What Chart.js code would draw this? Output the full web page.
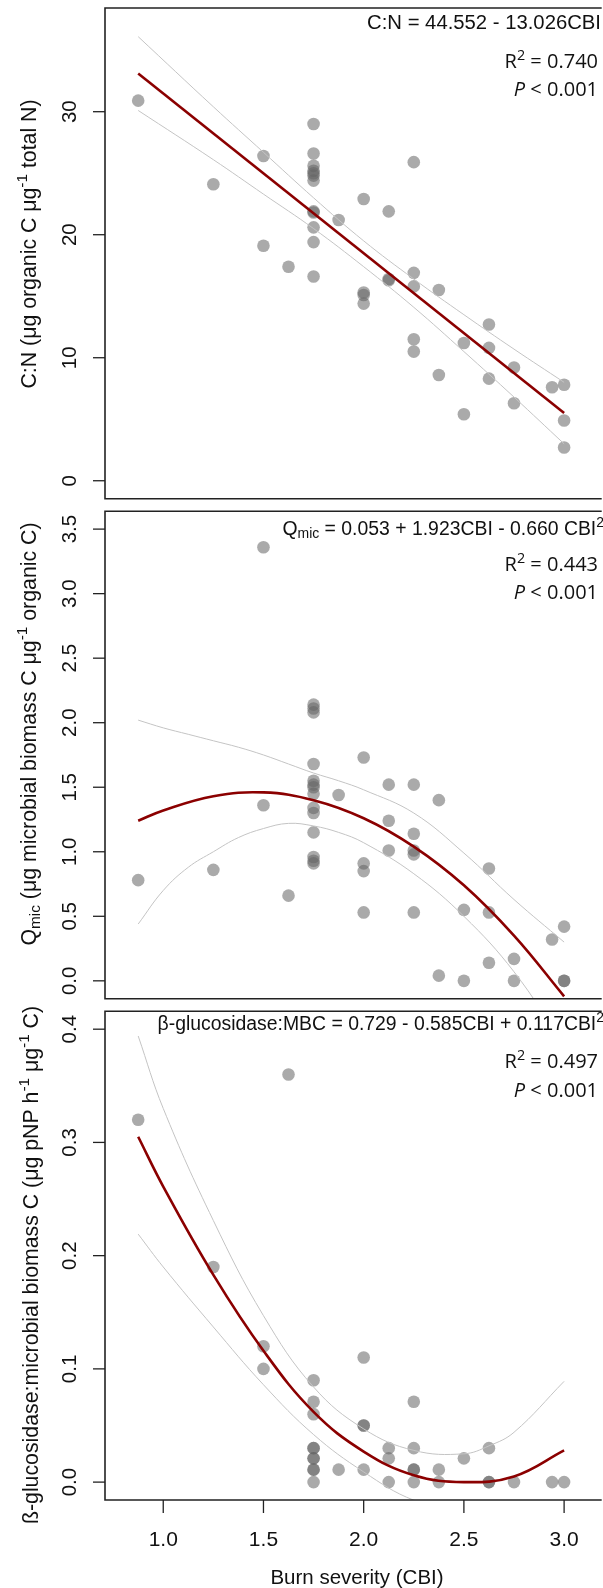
<!DOCTYPE html>
<html>
<head>
<meta charset="utf-8">
<script src="https://cdn.jsdelivr.net/npm/chart.js@4.4.0/dist/chart.umd.min.js"></script>
<style>
  html, body { margin: 0; padding: 0; background: #fff; }
  #wrap { position: relative; width: 603px; height: 1588px; overflow: hidden; }
  canvas { position: absolute; left: 0; }
</style>
</head>
<body>
<div id="wrap">
  <canvas id="c1" width="603" height="505" style="top:0px"></canvas>
  <canvas id="c2" width="603" height="500" style="top:505px"></canvas>
  <canvas id="c3" width="603" height="583" style="top:1005px"></canvas>
</div>
<script>
// ---- data ----
const xTicks = [1.0, 1.5, 2.0, 2.5, 3.0];
const xTickLabels = ["1.0", "1.5", "2.0", "2.5", "3.0"];

// C:N panel
const cnX = [0.875, 1.25, 1.5, 1.5, 1.625,
  1.75, 1.75, 1.75, 1.75, 1.75, 1.75, 1.75, 1.75, 1.75, 1.75, 1.75, 1.75,
  1.875, 2.0, 2.0, 2.0, 2.0, 2.125, 2.125, 2.125,
  2.25, 2.25, 2.25, 2.25, 2.25, 2.375, 2.375, 2.5, 2.5,
  2.625, 2.625, 2.625, 2.75, 2.75, 2.94, 3.0, 3.0, 3.0];
const cnY = [30.9, 24.1, 26.4, 19.1, 17.4,
  29.0, 26.6, 25.6, 25.2, 25.0, 24.8, 24.4, 21.9, 21.8, 20.6, 19.4, 16.6,
  21.2, 22.9, 15.3, 15.1, 14.4, 21.9, 16.4, 16.3,
  25.9, 16.9, 15.8, 11.5, 10.5, 15.5, 8.6, 11.2, 5.4,
  12.7, 10.8, 8.3, 9.2, 6.3, 7.6, 7.8, 4.9, 2.7];
const cnFitX = [0.875, 3.0];
const cnFitY = [33.1, 5.5];
const cnBandX = [0.875, 1.25, 1.5, 1.75, 2.0, 2.25, 2.5, 2.75, 3.0];
const cnUpper = [36.1, 30.4, 26.7, 23.0, 19.5, 16.4, 13.5, 10.7, 8.0];
const cnLower = [30.1, 26.1, 23.3, 20.5, 17.4, 14.1, 10.5, 6.8, 3.0];
const cnTicks = [0, 10, 20, 30];
const cnTickLabels = ["0", "10", "20", "30"];

// Qmic panel
const qX = [0.875, 1.25, 1.5, 1.5, 1.625,
  1.75, 1.75, 1.75, 1.75, 1.75, 1.75, 1.75, 1.75, 1.75, 1.75, 1.75, 1.75, 1.75, 1.75,
  1.875, 2.0, 2.0, 2.0, 2.0, 2.125, 2.125, 2.125,
  2.25, 2.25, 2.25, 2.25, 2.25, 2.375, 2.375, 2.5, 2.5,
  2.625, 2.625, 2.625, 2.75, 2.75, 2.94, 3.0, 3.0, 3.0];
const qY = [0.78, 0.86, 3.36, 1.36, 0.66,
  2.14, 2.11, 2.08, 1.68, 1.55, 1.52, 1.50, 1.45, 1.34, 1.30, 1.15, 0.96, 0.93, 0.91,
  1.44, 1.73, 0.91, 0.85, 0.53, 1.52, 1.24, 1.01,
  1.52, 1.14, 1.01, 0.98, 0.53, 1.40, 0.04, 0.55, 0.0,
  0.87, 0.53, 0.14, 0.17, 0.0, 0.32, 0.42, 0.0, 0.0];
const qFitX = [0.875, 1.0, 1.25, 1.5, 1.75, 2.0, 2.25, 2.5, 2.75, 3.0];
const qFitY = [1.24, 1.32, 1.43, 1.46, 1.40, 1.26, 1.04, 0.74, 0.35, -0.12];
const qBandX = [0.875, 1.0, 1.125, 1.25, 1.375, 1.5, 1.625, 1.75, 1.875, 2.0, 2.25, 2.5, 2.75, 3.0];
const qUpper = [2.02, 1.96, 1.91, 1.86, 1.81, 1.75, 1.68, 1.61, 1.55, 1.48, 1.30, 0.99, 0.63, 0.30];
const qLower = [0.44, 0.70, 0.88, 1.00, 1.11, 1.18, 1.22, 1.20, 1.15, 1.07, 0.83, 0.50, 0.07, -0.50];
const qTicks = [0, 0.5, 1.0, 1.5, 2.0, 2.5, 3.0, 3.5];
const qTickLabels = ["0.0", "0.5", "1.0", "1.5", "2.0", "2.5", "3.0", "3.5"];

// beta-glucosidase:MBC panel
const bgX = [0.875, 1.25, 1.5, 1.5, 1.625,
  1.75, 1.75, 1.75, 1.75, 1.75, 1.75, 1.75, 1.75, 1.75, 1.75,
  1.875, 2.0, 2.0, 2.0, 2.0, 2.125, 2.125, 2.125,
  2.25, 2.25, 2.25, 2.25, 2.25, 2.375, 2.375, 2.5,
  2.625, 2.625, 2.625, 2.75, 2.94, 3.0];
const bgY = [0.320, 0.190, 0.120, 0.100, 0.360,
  0.090, 0.071, 0.060, 0.030, 0.030, 0.021, 0.021, 0.011, 0.011, 0.0,
  0.011, 0.110, 0.050, 0.050, 0.011, 0.030, 0.021, 0.0,
  0.071, 0.030, 0.011, 0.011, 0.0, 0.011, 0.0, 0.021,
  0.030, 0.0, 0.0, 0.0, 0.0, 0.0];
const bgFitX = [0.875, 1.0, 1.25, 1.5, 1.75, 2.0, 2.25, 2.5, 2.75, 3.0];
const bgFitY = [0.305, 0.261, 0.183, 0.116, 0.062, 0.027, 0.006, 0.0, 0.005, 0.028];
const bgBandX = [0.875, 1.0, 1.25, 1.5, 1.75, 2.0, 2.25, 2.5, 2.625, 2.75, 3.0];
const bgUpper = [0.394, 0.330, 0.231, 0.147, 0.084, 0.047, 0.028, 0.025, 0.032, 0.044, 0.089];
const bgLower = [0.219, 0.190, 0.137, 0.086, 0.042, 0.009, -0.016, -0.026, -0.030, -0.033, -0.034];
const bgTicks = [0, 0.1, 0.2, 0.3, 0.4];
const bgTickLabels = ["0.0", "0.1", "0.2", "0.3", "0.4"];

// ---- styling ----
const SANS = '"Liberation Sans", Arial, sans-serif';
const STAT = '"Open Sans", sans-serif';
const INK = "#111";
const DOT = "rgba(100,100,100,0.55)";
const FIT = "#8b0000";
const BAND = "#c4c4c4";

const pts = (xs, ys) => xs.map((x, i) => ({ x, y: ys[i] }));

function richWidth(ctx, segs, size, family) {
  let w = 0;
  segs.forEach((s) => {
    const fs = s.s ? size * 0.72 : size;
    ctx.font = `${s.i ? "italic " : ""}${fs}px ${family}`;
    w += ctx.measureText(s.t).width;
  });
  return w;
}

function drawRich(ctx, segs, x, y, size, family, align) {
  const w = richWidth(ctx, segs, size, family);
  let cx = align === "right" ? x - w : align === "center" ? x - w / 2 : x;
  ctx.textAlign = "left";
  ctx.textBaseline = "alphabetic";
  ctx.fillStyle = INK;
  segs.forEach((s) => {
    const fs = s.s ? size * 0.72 : size;
    ctx.font = `${s.i ? "italic " : ""}${fs}px ${family}`;
    let dy = 0;
    if (s.s === "sup") dy = -size * 0.42;
    if (s.s === "sub") dy = size * 0.18;
    ctx.fillText(s.t, cx, y + dy);
    cx += ctx.measureText(s.t).width;
  });
}

function makePanel(cfg) {
  const decor = {
    id: "decor",
    afterDraw(chart) {
      const { ctx, chartArea: a, scales } = chart;
      const ys = scales.y, xs = scales.x;
      ctx.save();
      ctx.strokeStyle = "#222";
      ctx.lineWidth = 1.6;
      ctx.beginPath();
      ctx.moveTo(a.right + 5, a.top);
      ctx.lineTo(a.left, a.top);
      ctx.lineTo(a.left, a.bottom);
      ctx.lineTo(a.right + 5, a.bottom);
      ctx.stroke();

      // y ticks + rotated labels
      ctx.lineWidth = 1.3;
      cfg.yTicks.forEach((v, i) => {
        const py = ys.getPixelForValue(v);
        ctx.beginPath();
        ctx.moveTo(a.left - 12, py);
        ctx.lineTo(a.left, py);
        ctx.stroke();
        ctx.save();
        ctx.translate(75.5, py);
        ctx.rotate(-Math.PI / 2);
        ctx.font = `20.5px ${SANS}`;
        ctx.fillStyle = INK;
        ctx.textAlign = "center";
        ctx.textBaseline = "alphabetic";
        ctx.fillText(cfg.yTickLabels[i], 0, 0);
        ctx.restore();
      });

      // y title
      ctx.save();
      ctx.translate(cfg.titleX, cfg.titleY);
      ctx.rotate(-Math.PI / 2);
      drawRich(ctx, cfg.title, 0, 0, 21.3, SANS, "center");
      ctx.restore();

      // x axis (bottom panel only)
      if (cfg.xAxis) {
        xTicks.forEach((v, i) => {
          const px = xs.getPixelForValue(v);
          ctx.beginPath();
          ctx.moveTo(px, a.bottom);
          ctx.lineTo(px, a.bottom + 13);
          ctx.stroke();
          ctx.font = `21px ${SANS}`;
          ctx.fillStyle = INK;
          ctx.textAlign = "center";
          ctx.textBaseline = "alphabetic";
          ctx.fillText(xTickLabels[i], px, a.bottom + 46);
        });
        ctx.font = `20.5px ${SANS}`;
        ctx.fillText("Burn severity (CBI)", 357, a.bottom + 84);
      }

      // equation and stats
      drawRich(ctx, cfg.eq, cfg.eqX, cfg.eqY, cfg.eqSize, SANS, "right");
      drawRich(ctx, [{ t: "R" }, { t: "2", s: "sup" }, { t: " = " + cfg.r2 }], 598, cfg.r2Y, 20, STAT, "right");
      drawRich(ctx, [{ t: "P", i: true }, { t: " < 0.001" }], 598, cfg.pY, 20, STAT, "right");
      ctx.restore();
    }
  };

  const line = (xs, ys, color, width) => ({
    type: "line",
    data: pts(xs, ys),
    borderColor: color,
    borderWidth: width,
    pointRadius: 0,
    fill: false,
    tension: 0.4,
  });

  new Chart(document.getElementById(cfg.id), {
    type: "scatter",
    data: {
      datasets: [
        line(cfg.fitX, cfg.fitY, FIT, 2.6),
        line(cfg.bandX, cfg.upper, BAND, 1),
        line(cfg.bandX, cfg.lower, BAND, 1),
        {
          type: "scatter",
          data: pts(cfg.x, cfg.y),
          backgroundColor: DOT,
          borderWidth: 0,
          pointRadius: 6.3,
        },
      ],
    },
    options: {
      responsive: false,
      animation: false,
      events: [],
      layout: { padding: cfg.pad },
      scales: {
        x: { type: "linear", display: false, min: 0.7094, max: 3.1626 },
        y: { type: "linear", display: false, min: cfg.yMin, max: cfg.yMax },
      },
      plugins: { legend: { display: false }, tooltip: { enabled: false } },
    },
    plugins: [decor],
  });
}

makePanel({
  id: "c1",
  pad: { left: 105, top: 8, right: 0, bottom: 5 },
  x: cnX, y: cnY, fitX: cnFitX, fitY: cnFitY, bandX: cnBandX, upper: cnUpper, lower: cnLower,
  yMin: -1.46, yMax: 38.43, yTicks: cnTicks, yTickLabels: cnTickLabels,
  title: [{ t: "C:N (μg organic C μg" }, { t: "-1", s: "sup" }, { t: " total N)" }],
  titleX: 36, titleY: 244,
  eq: [{ t: "C:N = 44.552 - 13.026CBI" }], eqX: 601, eqY: 29, eqSize: 20.3,
  r2: "0.740", r2Y: 68, pY: 96,
});

makePanel({
  id: "c2",
  pad: { left: 105, top: 4, right: 0, bottom: 5 },
  x: qX, y: qY, fitX: qFitX, fitY: qFitY, bandX: qBandX, upper: qUpper, lower: qLower,
  yMin: -0.1385, yMax: 3.638, yTicks: qTicks, yTickLabels: qTickLabels,
  title: [{ t: "Q" }, { t: "mic", s: "sub" }, { t: " (μg microbial biomass C μg" }, { t: "-1", s: "sup" }, { t: " organic C)" }],
  titleX: 36, titleY: 229,
  eq: [{ t: "Q" }, { t: "mic", s: "sub" }, { t: " = 0.053 + 1.923CBI - 0.660 CBI" }, { t: "2", s: "sup" }],
  eqX: 604, eqY: 30, eqSize: 19.4,
  r2: "0.443", r2Y: 66, pY: 94,
});

makePanel({
  id: "c3",
  pad: { left: 105, top: 4, right: 0, bottom: 88 },
  x: bgX, y: bgY, fitX: bgFitX, fitY: bgFitY, bandX: bgBandX, upper: bgUpper, lower: bgLower,
  yMin: -0.0158, yMax: 0.4158, yTicks: bgTicks, yTickLabels: bgTickLabels,
  xAxis: true,
  title: [{ t: "ß-glucosidase:microbial biomass C (μg pNP h" }, { t: "-1", s: "sup" }, { t: " μg" }, { t: "-1", s: "sup" }, { t: " C)" }],
  titleX: 38, titleY: 260,
  eq: [{ t: "β-glucosidase:MBC = 0.729 - 0.585CBI + 0.117CBI" }, { t: "2", s: "sup" }],
  eqX: 604, eqY: 25, eqSize: 19.4,
  r2: "0.497", r2Y: 63, pY: 92,
});
</script>
</body>
</html>
